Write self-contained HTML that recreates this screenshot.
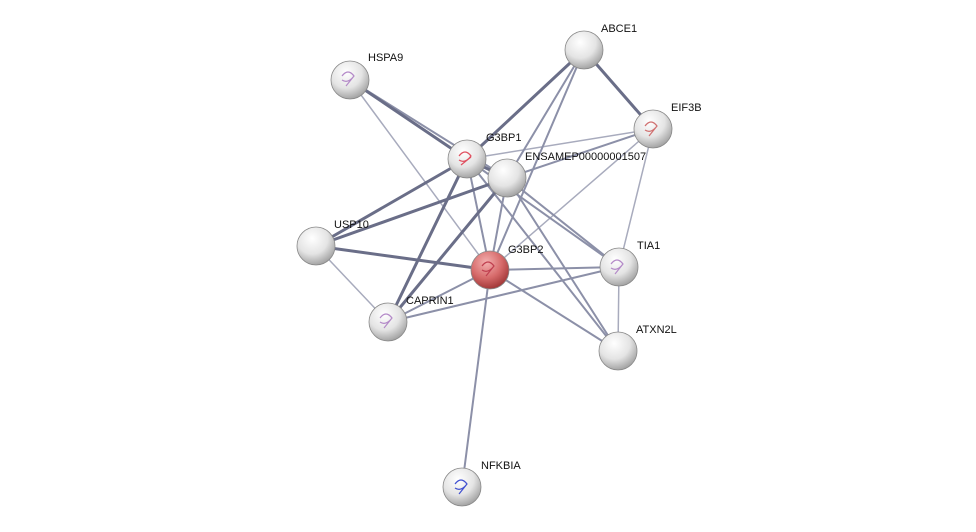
<!DOCTYPE html>
<html><head><meta charset="utf-8"><style>
html,body{margin:0;padding:0;background:#fff;}
svg{display:block;}
text{font-family:"Liberation Sans",sans-serif;font-size:11px;fill:#111;}
</style></head><body>
<svg width="976" height="532" viewBox="0 0 976 532" xmlns="http://www.w3.org/2000/svg">
<defs>
<radialGradient id="gw" cx="0.4" cy="0.3" r="0.75">
<stop offset="0" stop-color="#ffffff"/><stop offset="0.55" stop-color="#e4e4e4"/><stop offset="1" stop-color="#9a9a9a"/>
</radialGradient>
<radialGradient id="gr" cx="0.4" cy="0.3" r="0.75">
<stop offset="0" stop-color="#f4b0b0"/><stop offset="0.55" stop-color="#d66a6a"/><stop offset="1" stop-color="#9a3030"/>
</radialGradient>
</defs>
<g stroke-linecap="round">
<!-- thin -->
<g stroke="#a8abbd" stroke-width="1.5">
<line x1="350" y1="80" x2="490" y2="270"/>
<line x1="316" y1="246" x2="388" y2="322"/>
<line x1="653" y1="129" x2="619" y2="267"/>
<line x1="653" y1="129" x2="490" y2="270"/>
<line x1="467" y1="159" x2="653" y2="129"/>
<line x1="619" y1="267" x2="618" y2="351"/>
</g>
<g stroke="#8c90a8" stroke-width="2">
<line x1="350" y1="80" x2="507" y2="178"/>
<line x1="507" y1="178" x2="653" y2="129"/>
<line x1="584" y1="50" x2="490" y2="270"/>
<line x1="584" y1="50" x2="507" y2="178"/>
<line x1="467" y1="159" x2="619" y2="267"/>
<line x1="467" y1="159" x2="618" y2="351"/>
<line x1="507" y1="178" x2="619" y2="267"/>
<line x1="507" y1="178" x2="618" y2="351"/>
<line x1="490" y1="270" x2="619" y2="267"/>
<line x1="490" y1="270" x2="618" y2="351"/>
<line x1="490" y1="270" x2="462" y2="487"/>
<line x1="388" y1="322" x2="619" y2="267"/>
<line x1="388" y1="322" x2="490" y2="270"/>
<line x1="467" y1="159" x2="490" y2="270"/>
<line x1="507" y1="178" x2="490" y2="270"/>
</g>
<g stroke="#6a6e88" stroke-width="3">
<line x1="350" y1="80" x2="467" y2="159"/>
<line x1="584" y1="50" x2="653" y2="129"/>
<line x1="584" y1="50" x2="467" y2="159"/>
<line x1="467" y1="159" x2="316" y2="246"/>
<line x1="507" y1="178" x2="316" y2="246"/>
<line x1="467" y1="159" x2="388" y2="322"/>
<line x1="507" y1="178" x2="388" y2="322"/>
<line x1="316" y1="246" x2="490" y2="270"/>
<line x1="467" y1="159" x2="507" y2="178"/>
</g>
</g>
<g stroke="#888" stroke-width="0.8">
<circle cx="350" cy="80" r="19" fill="url(#gw)"/>
<circle cx="584" cy="50" r="19" fill="url(#gw)"/>
<circle cx="653" cy="129" r="19" fill="url(#gw)"/>
<circle cx="467" cy="159" r="19" fill="url(#gw)"/>
<circle cx="507" cy="178" r="19" fill="url(#gw)"/>
<circle cx="316" cy="246" r="19" fill="url(#gw)"/>
<circle cx="619" cy="267" r="19" fill="url(#gw)"/>
<circle cx="388" cy="322" r="19" fill="url(#gw)"/>
<circle cx="618" cy="351" r="19" fill="url(#gw)"/>
<circle cx="462" cy="487" r="19" fill="url(#gw)"/>
<circle cx="490" cy="270" r="19" fill="url(#gr)"/>
</g>
<g fill="none" stroke-width="1.2">
<path d="M342 76 q6 -8 12 0 q-6 8 -12 4 m4 6 l8 -10" stroke="#b48ac8"/>
<path d="M645 126 q6 -8 12 0 q-6 8 -12 4 m4 6 l8 -10" stroke="#d07070"/>
<path d="M459 156 q6 -8 12 0 q-6 8 -12 4 m2 5 l10 -8" stroke="#e05060"/>
<path d="M611 264 q6 -8 12 0 q-6 8 -12 4 m4 6 l8 -10" stroke="#b48ac8"/>
<path d="M380 318 q6 -8 12 0 q-6 8 -12 4 m4 6 l8 -10" stroke="#b48ac8"/>
<path d="M482 266 q6 -8 12 0 q-6 8 -12 4 m4 6 l8 -10" stroke="#c04050"/>
<path d="M455 484 q6 -8 12 0 q-6 8 -12 4 m4 6 l8 -10" stroke="#4050d0"/>
</g>
<text x="368" y="61">HSPA9</text>
<text x="601" y="32">ABCE1</text>
<text x="671" y="111">EIF3B</text>
<text x="486" y="141">G3BP1</text>
<text x="525" y="160">ENSAMEP00000001507</text>
<text x="334" y="228">USP10</text>
<text x="508" y="253">G3BP2</text>
<text x="637" y="249">TIA1</text>
<text x="406" y="304">CAPRIN1</text>
<text x="636" y="333">ATXN2L</text>
<text x="481" y="469">NFKBIA</text>
</svg>
</body></html>
